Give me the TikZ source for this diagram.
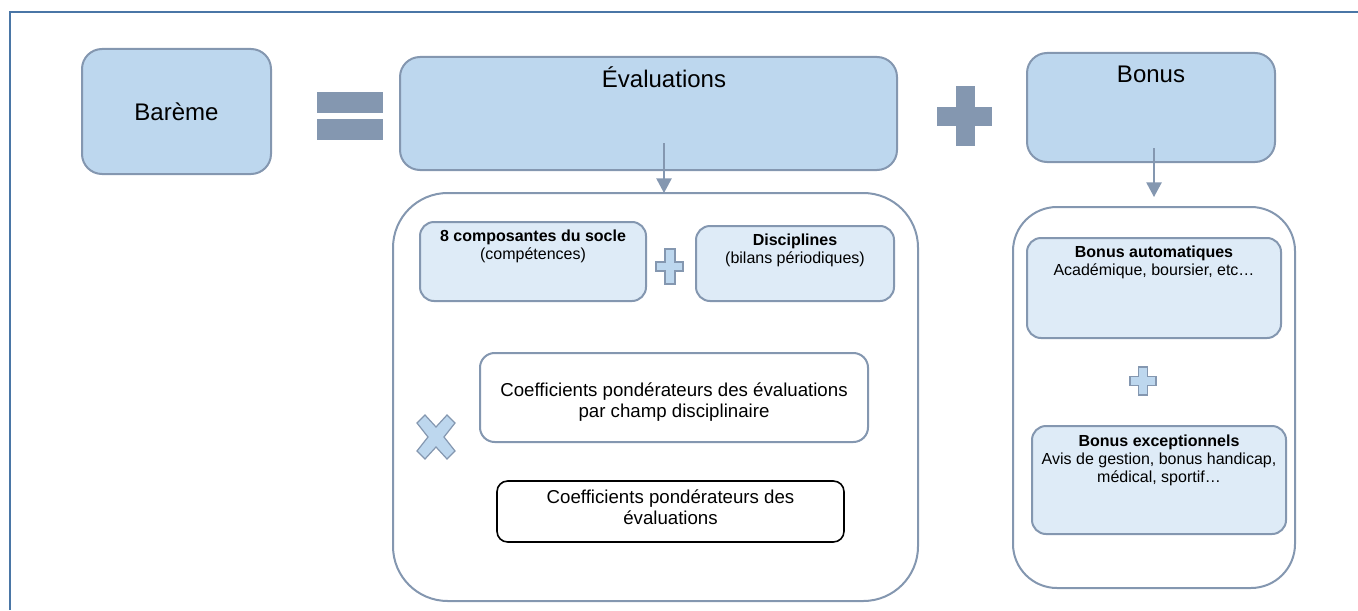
\documentclass[tikz,border=0pt]{standalone}
\usepackage{fontspec}
\setmainfont{Liberation Sans}
\usetikzlibrary{arrows.meta,calc}
\newlength\pu \setlength\pu{0.75pt}
\definecolor{frameblue}{HTML}{4A76A6}
\definecolor{boxfill}{HTML}{BDD7EE}
\definecolor{lightfill}{HTML}{DEEBF7}
\definecolor{edgecol}{HTML}{8497B0}
\begin{document}
\begin{tikzpicture}[x=0.75pt,y=-0.75pt,
  box/.style={draw=edgecol, line width=1.5pt, inner sep=0pt, outer sep=0pt},
  bigbox/.style={box, fill=boxfill, rounded corners=15pt},
  subbox/.style={box, fill=lightfill, rounded corners=10.5pt},
  container/.style={box, fill=white, rounded corners=41pt},
  whitebox/.style={box, fill=white, rounded corners=11pt},
  blackbox/.style={draw=black, line width=1.2pt, fill=white, rounded corners=8pt, inner sep=0pt, outer sep=0pt},
  bigtxt/.style={font=\fontsize{18pt}{21pt}\selectfont, inner sep=0pt},
  midtxt/.style={font=\fontsize{14pt}{15.8pt}\selectfont, align=center, inner sep=0pt},
  smalltxt/.style={font=\fontsize{12pt}{13.5pt}\selectfont, align=center, inner sep=0pt},
  arr/.style={draw=edgecol, line width=1.1pt, -{Triangle[width=11.5pt,length=11pt]}},
  opsign/.style={fill=edgecol},
  smallsign/.style={fill=boxfill, draw=edgecol, line width=0.9pt},
]
\useasboundingbox (0,0) rectangle (1358,610);
% frame
\draw[frameblue, line width=1.9pt] (10,610) -- (10,12) -- (1358,12);

% top row
\node[bigbox, minimum width=189\pu, minimum height=125\pu, font=\fontsize{18pt}{21pt}\selectfont] (bareme) at (176.5,111.5) {Barème};
\fill[opsign] (317,92) rectangle (383,113);
\fill[opsign] (317,119) rectangle (383,140);
\node[bigbox, minimum width=497\pu, minimum height=113\pu] (evals) at (648.5,113.5) {};
\node[bigtxt, anchor=base] (evalstxt) at (664,88) {Évaluations};
\fill[opsign] (956,86) rectangle (975,146);
\fill[opsign] (937,107) rectangle (992,126);
\node[bigbox, minimum width=248\pu, minimum height=109\pu] (bonus) at (1151,107.5) {};
\node[bigtxt, anchor=base] (bonustxt) at (1151,82) {Bonus};

% evaluation container
\node[container, minimum width=525\pu, minimum height=408\pu] (econt) at (655.5,397) {};
\coordinate (ea) at (664,143);
\draw[arr] (ea) -- (ea |- econt.north);

\node[subbox, minimum width=226\pu, minimum height=79\pu] (socle) at (533,261.5) {};
\node[smalltxt] (socletxt) at (533,246) {\textbf{8 composantes du socle}\\(compétences)};
\draw[smallsign] (665,249) -- (675,249) -- (675,262) -- (683,262) -- (683,271) -- (675,271) -- (675,284) -- (665,284) -- (665,271) -- (656,271) -- (656,262) -- (665,262) -- cycle;
\node[subbox, minimum width=198\pu, minimum height=75\pu] (disc) at (795,263.5) {};
\node[smalltxt] (disctxt) at (795,250) {\textbf{Disciplines}\\(bilans périodiques)};

\node[whitebox, minimum width=388\pu, minimum height=89\pu] (coef) at (674,397.5) {};
\node[midtxt] (coeftxt) at (674,402.5) {Coefficients pondérateurs des évaluations\\par champ disciplinaire};
\draw[smallsign] (417,423) -- (425,415) -- (436,427) -- (447,415) -- (455,423) -- (444,437) -- (455,451) -- (447,459) -- (436,447) -- (425,459) -- (417,451) -- (428,437) -- cycle;

\node[blackbox, minimum width=347\pu, minimum height=61\pu] (coefb) at (670.5,511.5) {};
\node[midtxt] (coefbtxt) at (670.5,507.5) {Coefficients pondérateurs des\\évaluations};

% bonus container
\node[container, rounded corners=33pt, minimum width=282\pu, minimum height=381\pu] (bcont) at (1154,397.5) {};
\coordinate (ba) at (1154,148);
\draw[arr, shorten >=7.5pt] (ba) -- (ba |- bcont.north);

\node[subbox, minimum width=254\pu, minimum height=100\pu] (bauto) at (1154,288) {};
\node[smalltxt] (bautotxt) at (1154,262.5) {\textbf{Bonus automatiques}\\Académique, boursier, etc…};
\draw[smallsign] (1138.5,367) -- (1147.5,367) -- (1147.5,376.5) -- (1156,376.5) -- (1156,385.5) -- (1147.5,385.5) -- (1147.5,395) -- (1138.5,395) -- (1138.5,385.5) -- (1130,385.5) -- (1130,376.5) -- (1138.5,376.5) -- cycle;
\node[subbox, minimum width=254\pu, minimum height=108\pu] (bexc) at (1159,480) {};
\node[smalltxt] (bexctxt) at (1159,460.5) {\textbf{Bonus exceptionnels}\\Avis de gestion, bonus handicap,\\médical, sportif…};
\end{tikzpicture}
\end{document}
